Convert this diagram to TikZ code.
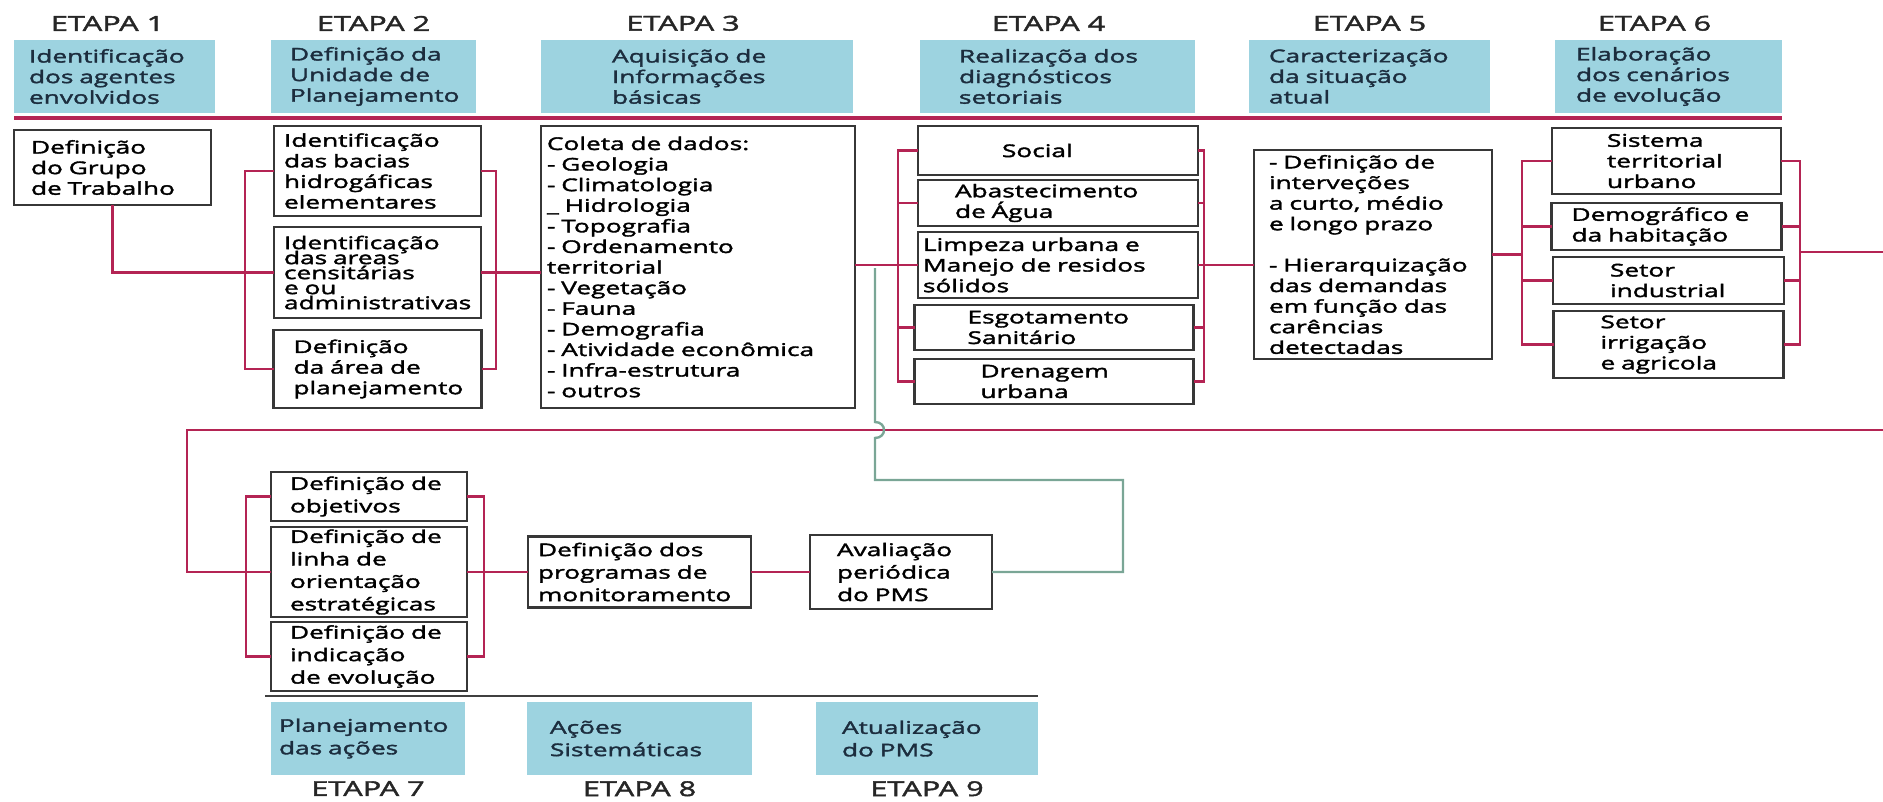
\documentclass[tikz,border=0pt]{standalone}
\usepackage{fontspec}
\usetikzlibrary{positioning}
\newfontfamily\bodyfont{Open Sans}[FakeStretch=1.5,FakeBold=2]
\definecolor{headblue}{RGB}{157,211,224}
\definecolor{headtext}{RGB}{28,45,62}
\definecolor{linkred}{RGB}{180,36,84}
\definecolor{backgreen}{RGB}{122,166,150}
\definecolor{boxgray}{RGB}{55,55,55}
\def\boxtext{\bodyfont\fontsize{17.5}{20.6}\selectfont}
\def\tighttext{\bodyfont\fontsize{17.5}{15}\selectfont\lineskiplimit=-20pt}
\def\lowtext{\bodyfont\fontsize{17.5}{22.5}\selectfont}
\def\etapatext{\bodyfont\fontsize{20.5}{24}\selectfont}

\begin{document}
\begin{tikzpicture}[x=1pt,y=-1pt,
	head/.style={fill=headblue,text=headtext,anchor=north west,align=left,inner ysep=0pt,outer sep=0pt,minimum height=73pt,font=\boxtext},
	stepbox/.style={draw=boxgray,line width=2.2pt,fill=white,anchor=north west,align=left,inner ysep=0pt,outer sep=0pt,font=\boxtext},
	etapa/.style={inner sep=0pt,text=black!85,font=\etapatext},
	link/.style={draw=linkred,line width=2.4pt},
	feedback/.style={draw=backgreen,line width=2.4pt},
	rule/.style={draw=black!75,line width=2.4pt}]
	\useasboundingbox (0,0) rectangle (1883,801);

	% stage headers
	\node [head,text width=171pt,inner xsep=15pt] at (14,40) (H1) {Identificação\\dos agentes\\envolvidos};
	\node [head,text width=167pt,inner xsep=19pt,right=56pt of H1] (H2) {Definição da\\Unidade de\\Planejamento};
	\node [head,text width=170pt,inner xsep=71pt,right=65pt of H2] (H3) {Aquisição de\\Informações\\básicas};
	\node [head,text width=197pt,inner xsep=39pt,right=67pt of H3] (H4) {Realizaçõa dos\\diagnósticos\\setoriais};
	\node [head,text width=201pt,inner xsep=20pt,right=54pt of H4] (H5) {Caracterização\\da situação\\atual};
	\node [head,text width=185pt,inner xsep=21pt,right=65pt of H5] (H6) {Elaboração\\dos cenários\\de evolução};
	\node [etapa,above=9pt of H1,xshift=-7pt] (E1) {ETAPA 1};
	\node [etapa,above=9pt of H2] (E2) {ETAPA 2};
	\node [etapa,above=9pt of H3,xshift=-14pt] (E3) {ETAPA 3};
	\node [etapa,above=9pt of H4,xshift=-9pt] (E4) {ETAPA 4};
	\node [etapa,above=9pt of H5] (E5) {ETAPA 5};
	\node [etapa,above=9pt of H6,xshift=-14pt] (E6) {ETAPA 6};
	\draw [link,line width=3.2pt] ([yshift=-5pt]H1.south west) -- ([yshift=-5pt]H6.south east);

	% stages 1 to 3
	\node [stepbox,text width=163pt,inner xsep=17pt,minimum height=75pt] at (14,130) (G1) {Definição\\do Grupo\\de Trabalho};
	\node [stepbox,text width=187pt,inner xsep=10pt,minimum height=90pt] at (274,126) (A2) {Identificação\\das bacias\\hidrogáficas\\elementares};
	\node [stepbox,text width=187pt,inner xsep=10pt,minimum height=91pt,font=\tighttext,below=11pt of A2] (B2) {Identificação\\das areas\\censitárias\\e ou\\administrativas};
	\node [stepbox,text width=168pt,inner xsep=20pt,minimum height=78pt,below=12pt of B2] (C2) {Definição\\da área de\\planejamento};
	\node [stepbox,text width=302pt,inner xsep=6pt,minimum height=282pt] at (541,126) (C3) {Coleta de dados:\\- Geologia\\- Climatologia\\\_ Hidrologia\\- Topografia\\- Ordenamento\\territorial\\- Vegetação\\- Fauna\\- Demografia\\- Atividade econômica\\- Infra-estrutura\\- outros};
	\draw [link] (G1.south) |- (B2.west);
	\draw [link] (A2.west) -- ++(-29,0) |- (C2.west);
	\draw [link] (A2.east) -- ++(15,0) |- (C2.east);
	\draw [link] (B2.east) -- (B2.east -| C3.west);

	% stage 4
	\node [stepbox,text width=112pt,inner xsep=84pt,minimum height=49pt] at (918,126) (S4) {Social};
	\node [stepbox,text width=206pt,inner xsep=37pt,minimum height=46pt,below=5pt of S4] (A4) {Abastecimento\\de Água};
	\node [stepbox,text width=270pt,inner xsep=5pt,minimum height=66pt,below=6pt of A4] (L4) {Limpeza urbana e\\Manejo de residos\\sólidos};
	\node [stepbox,text width=173pt,inner xsep=53pt,minimum height=45pt,below=7pt of L4,xshift=-4pt] (E4b) {Esgotamento\\Sanitário};
	\node [stepbox,text width=147pt,inner xsep=66pt,minimum height=45pt,below=9pt of E4b] (D4) {Drenagem\\urbana};
	\draw [link] (L4.west -| C3.east) -- (L4.west);
	\draw [link] (S4.west) -- ++(-20,0) |- (D4.west);
	\draw [link] (A4.west) -- ++(-20,0);
	\draw [link] (E4b.west) -- ++(-16,0);
	\draw [link] (S4.east) -- ++(6,0) |- (D4.east);
	\draw [link] (A4.east) -- ++(6,0);
	\draw [link] (E4b.east) -- ++(10,0);

	% stage 5
	\node [stepbox,text width=208pt,inner xsep=15pt,minimum height=209pt] at (1254,150) (T5) {- Definição de\\interveções\\a curto, médio\\e longo prazo\\[20.6pt]- Hierarquização\\das demandas\\em função das\\carências\\detectadas};
	\draw [link] (L4.east) -- (L4.east -| T5.west);

	% stage 6
	\node [stepbox,text width=119pt,inner xsep=55pt,minimum height=66pt] at (1552,128) (Si6) {Sistema\\territorial\\urbano};
	\node [stepbox,text width=190pt,inner xsep=20pt,minimum height=47pt,below=9pt of Si6] (De6) {Demográfico e\\da habitação};
	\node [stepbox,text width=117pt,inner xsep=57pt,minimum height=47pt,below=7pt of De6,xshift=2pt] (In6) {Setor\\industrial};
	\node [stepbox,text width=136pt,inner xsep=47pt,minimum height=67pt,below=7pt of In6] (Ir6) {Setor\\irrigação\\e agricola};
	\draw [link] (T5.east) -- ([xshift=-30pt]T5.east -| Si6.west);
	\draw [link] (Si6.west) -- ++(-30,0) |- (Ir6.west);
	\draw [link] (De6.west) -- ++(-30,0);
	\draw [link] (In6.west) -- ++(-32,0);
	\draw [link] (Si6.east) -- ++(19,0) |- (Ir6.east);
	\draw [link] (De6.east) -- ++(18,0);
	\draw [link] (In6.east) -- ++(16,0);
	\coordinate (edgeR) at (1883,252);
	\coordinate (edgeB) at (1883,430);
	\draw [link] ([xshift=19pt]Si6.east |- edgeR) -- (edgeR);

	% stages 7 to 9
	\node [stepbox,text width=158pt,inner xsep=19pt,minimum height=49pt,font=\lowtext] at (271,472) (O7) {Definição de\\objetivos};
	\node [stepbox,text width=158pt,inner xsep=19pt,minimum height=90pt,font=\lowtext,below=6pt of O7] (Li7) {Definição de\\linha de\\orientação\\estratégicas};
	\node [stepbox,text width=158pt,inner xsep=19pt,minimum height=69pt,font=\lowtext,below=5pt of Li7] (Ind7) {Definição de\\indicação\\de evolução};
	\node [stepbox,text width=203pt,inner xsep=10pt,minimum height=71pt,font=\lowtext,right=61pt of Li7] (M8) {Definição dos\\programas de\\monitoramento};
	\node [stepbox,text width=128pt,inner xsep=27pt,minimum height=74pt,font=\lowtext,right=59pt of M8] (Av9) {Avaliação\\periódica\\do PMS};
	\draw [link] (edgeB) -- ([xshift=-84pt]Li7.west |- edgeB) |- (Li7.west);
	\draw [link] (O7.west) -- ++(-25,0) |- (Ind7.west);
	\draw [link] (O7.east) -- ++(17,0) |- (Ind7.east);
	\draw [link] (Li7.east) -- (M8.west);
	\draw [link] (M8.east) -- (Av9.west);
	\coordinate (gtop) at (875,268);
	\coordinate (gturn) at (1123,480);
	\draw [feedback] (Av9.east) -| (gturn) -- (gturn -| gtop) -- ([yshift=-8pt]gtop |- edgeB) .. controls +(12,0) and +(12,0) .. ([yshift=8pt]gtop |- edgeB) -- (gtop);

	\node [head,text width=178pt,inner xsep=8pt,font=\lowtext] at (271,702) (P7) {Planejamento\\das ações};
	\node [head,text width=179pt,inner xsep=23pt,font=\lowtext,right=62pt of P7] (P8) {Ações\\Sistemáticas};
	\node [head,text width=170pt,inner xsep=26pt,font=\lowtext,right=64pt of P8] (P9) {Atualização\\do PMS};
	\node [etapa,below=6pt of P7] (E7) {ETAPA 7};
	\node [etapa,below=6pt of P8] (E8) {ETAPA 8};
	\node [etapa,below=6pt of P9] (E9) {ETAPA 9};
	\draw [rule] ([shift={(-6pt,6pt)}]P7.north west) -- ([yshift=6pt]P9.north east);

\end{tikzpicture}
\end{document}
